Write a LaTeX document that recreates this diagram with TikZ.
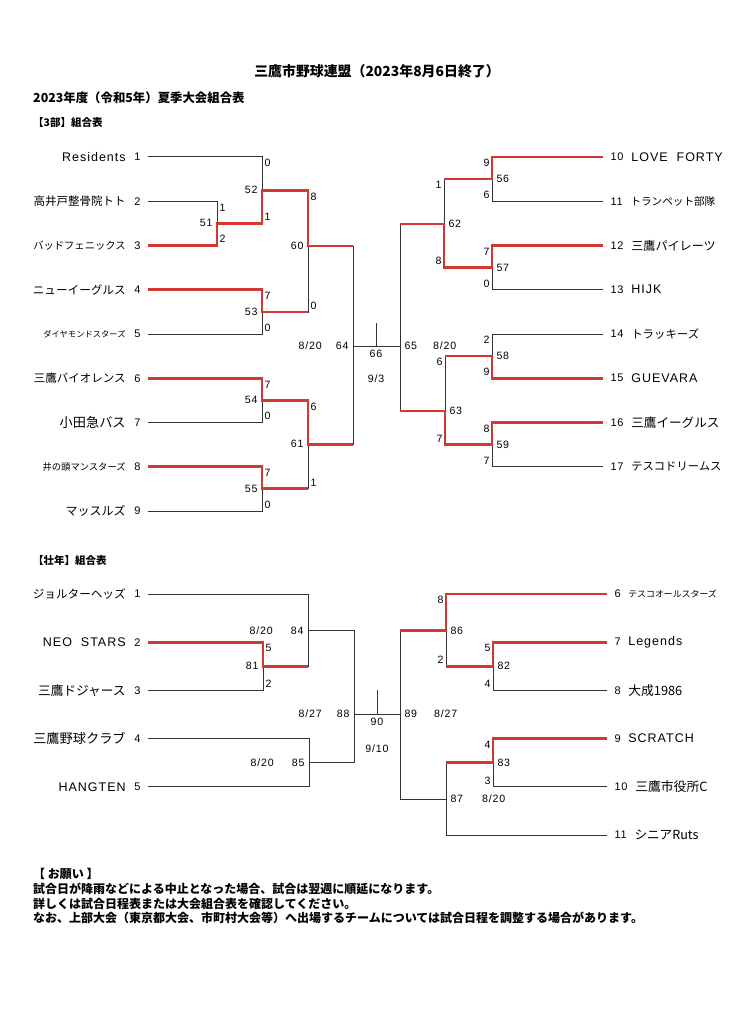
\documentclass[tikz,border=0pt]{standalone}
\usepackage{fontspec}
\setmainfont{Liberation Sans}[LetterSpace=8]
\newfontfamily\jp{Noto Sans CJK JP}
\usetikzlibrary{positioning}

\begin{document}
\begin{tikzpicture}[x=1pt,y=-1pt,
  wire/.style={draw=black!80,line width=1pt},
  win/.style={draw=bred,line width=2.9pt},
  num/.style={inner sep=2.3pt,font=\fontsize{10.6}{11}\selectfont},
  seed/.style={inner sep=2.3pt,font=\fontsize{11}{11}\selectfont},
  team/.style={inner sep=1pt},
  head/.style={anchor=west,inner sep=0pt}]
  \definecolor{bred}{RGB}{212,56,50}
  \useasboundingbox (0,0) rectangle (734,1024);

  % headings
  \node[font=\fontsize{13.9}{14}\jp\bfseries] (title) at (377,71) {三鷹市野球連盟（2023年8月6日終了）};
  \node[head,font=\fontsize{12.4}{13}\jp\bfseries] (sub) at (33,98) {2023年度（令和5年）夏季大会組合表};
  \node[head,font=\fontsize{10.5}{11}\jp\bfseries] (grpA) at (33,123) {【3部】組合表};
  \node[head,font=\fontsize{10.5}{11}\jp\bfseries] (grpB) at (33,560) {【壮年】組合表};

  % team line ends
  \foreach \i in {1,...,9} \coordinate (a\i) at (148,{157+44.25*(\i-1)});
  \foreach \i in {10,...,17} \coordinate (b\i) at (603,{157+44.25*(\i-10)});
  \foreach \i in {1,...,5} \coordinate (c\i) at (148,{594+48.2*(\i-1)});
  \foreach \i in {6,...,11} \coordinate (d\i) at (607,{594+48.2*(\i-6)});

  % match junctions
  \foreach \m/\x/\y in {51/217/223.4, 52/262/190.2, 53/262/312, 54/262/400.4,
      55/262/488.9, 60/308/246, 61/308/444.3, 64/353/346, 66/376/346, 65/400/346,
      56/492/179, 57/492/267.5, 58/492/356, 59/492/444.6, 62/444/224, 63/445/411,
      81/263/666.3, 84/308/630.5, 85/309/762.7, 88/354/714, 90/377/714, 89/400/714,
      82/493/666.3, 83/493/762.7, 86/446/630.5, 87/446/799}
    \coordinate (m\m) at (\x,\y);
  \coordinate (k66) at (376,323);
  \coordinate (k90) at (377,690);

  % teams, 3部
  \foreach \i/\fs/\nm in {1/12.5/Residents, 2/11.5/{\jp 高井戸整骨院トト},
      3/10.3/{\jp バッドフェニックス}, 4/11.6/{\jp ニューイーグルス},
      5/8.3/{\jp ダイヤモンドスターズ}, 6/11.5/{\jp 三鷹バイオレンス},
      7/13.2/{\jp 小田急バス}, 8/9.3/{\jp 井の頭マンスターズ}, 9/12/{\jp マッスルズ}} {
    \node[seed,left=5pt of a\i] (na\i) {\i};
    \node[team,font=\fontsize{\fs}{\fs}\selectfont,left=5pt of na\i] (ta\i) {\nm};
  }
  \foreach \i/\fs/\nm in {10/12.5/LOVE~~FORTY, 11/10.6/{\jp トランペット部隊},
      12/12.1/{\jp 三鷹パイレーツ}, 13/12.5/HIJK, 14/11.4/{\jp トラッキーズ},
      15/12.5/GUEVARA, 16/12.6/{\jp 三鷹イーグルス}, 17/11.3/{\jp テスコドリームス}} {
    \node[seed,right=5pt of b\i] (nb\i) {\i};
    \node[team,font=\fontsize{\fs}{\fs}\selectfont,right=4pt of nb\i] (tb\i) {\nm};
  }
  % teams, 壮年
  \foreach \i/\fs/\nm in {1/11.6/{\jp ジョルターヘッズ}, 2/12.5/NEO~~STARS,
      3/12.7/{\jp 三鷹ドジャース}, 4/13.2/{\jp 三鷹野球クラブ}, 5/12.5/HANGTEN} {
    \node[seed,left=5pt of c\i] (nc\i) {\i};
    \node[team,font=\fontsize{\fs}{\fs}\selectfont,left=5pt of nc\i] (tc\i) {\nm};
  }
  \foreach \i/\fs/\nm in {6/8.9/{\jp テスコオールスターズ}, 7/12.5/Legends,
      8/12.8/{\jp 大成1986}, 9/12.5/SCRATCH, 10/12.8/{\jp 三鷹市役所C},
      11/12.6/{\jp シニアRuts}} {
    \node[seed,right=5pt of d\i] (nd\i) {\i};
    \node[team,font=\fontsize{\fs}{\fs}\selectfont,right=4pt of nd\i] (td\i) {\nm};
  }

  % bracket lines
  \foreach \u/\v in {a1/m52, a2/m51, a3/m51, m51/m52, a4/m53, a5/m53, m52/m60, m53/m60,
      a6/m54, a7/m54, a8/m55, a9/m55, m54/m61, m55/m61, m60/m64, m61/m64,
      b10/m56, b11/m56, b12/m57, b13/m57, m56/m62, m57/m62, b14/m58, b15/m58,
      b16/m59, b17/m59, m58/m63, m59/m63, m62/m65, m63/m65,
      c1/m84, c2/m81, c3/m81, m81/m84, c4/m85, c5/m85, m84/m88, m85/m88,
      d6/m86, d7/m82, d8/m82, m82/m86, d9/m83, d10/m83, m83/m87, d11/m87,
      m86/m89, m87/m89}
    \draw[wire] (\u) -| (\v);
  \draw[wire] (m64) -- (m65);
  \draw[wire] (m66) -- (k66);
  \draw[wire] (m88) -- (m89);
  \draw[wire] (m90) -- (k90);

  % winners
  \draw[win] (a3) -| (m51) -| (m52) -| (m60) -- (m60 -| m64);
  \draw[win] (a4) -| (m53) -- (m53 -| m60);
  \draw[win] (a6) -| (m54) -| (m61) -- (m61 -| m64);
  \draw[win] (a8) -| (m55) -- (m55 -| m61);
  \draw[win] (b10) -| (m56) -- (m56 -| m62);
  \draw[win] (b12) -| (m57) -| (m62) -- (m62 -| m65);
  \draw[win] (b15) -| (m58) -- (m58 -| m63);
  \draw[win] (b16) -| (m59) -| (m63) -- (m63 -| m65);
  \draw[win] (c2) -| (m81) -- (m81 -| m84);
  \draw[win] (d6) -| (m86) -- (m86 -| m89);
  \draw[win] (d7) -| (m82) -- (m82 -| m86);
  \draw[win] (d9) -| (m83) -- (m83 -| m87);

  % scores
  \foreach \u/\v/\sc/\an in {a2/m51/1/north west, a3/m51/2/south west,
      a1/m52/0/north west, m51/m52/1/south west, a4/m53/7/north west, a5/m53/0/south west,
      a6/m54/7/north west, a7/m54/0/south west, a8/m55/7/north west, a9/m55/0/south west,
      m52/m60/8/north west, m53/m60/0/south west, m54/m61/6/north west, m55/m61/1/south west,
      b10/m56/9/north east, b11/m56/6/south east, b12/m57/7/north east, b13/m57/0/south east,
      b14/m58/2/north east, b15/m58/9/south east, b16/m59/8/north east, b17/m59/7/south east,
      m56/m62/1/north east, m57/m62/8/south east, m58/m63/6/north east, m59/m63/7/south east,
      c2/m81/5/north west, c3/m81/2/south west,
      d6/m86/8/north east, m82/m86/2/south east, d7/m82/5/north east, d8/m82/4/south east,
      d9/m83/4/north east, d10/m83/3/south east}
    \node[num,anchor=\an] at (\u -| \v) {\sc};

  % match numbers
  \foreach \m in {51,52,53,54,55,60,61,64,81,84,85,88}
    \node[num,left=2pt of m\m] (n\m) {\m};
  \foreach \m in {56,57,58,59,62,63,65,82,83,86,87,89}
    \node[num,right=2pt of m\m] (n\m) {\m};
  \node[num,below=1.5pt of m66] (n66) {66};
  \node[num,below=1.5pt of m90] (n90) {90};

  % dates
  \node[num,left=9pt of n64] (dt64) {8/20};
  \node[num,right=11pt of n65] (dt65) {8/20};
  \node[num,below=12pt of n66] (dt66) {9/3};
  \node[num,left=13pt of n84] (dt84) {8/20};
  \node[num,left=13pt of n85] (dt85) {8/20};
  \node[num,left=10pt of n88] (dt88) {8/27};
  \node[num,right=12pt of n89] (dt89) {8/27};
  \node[num,right=14pt of n87] (dt87) {8/20};
  \node[num,below=14pt of n90] (dt90) {9/10};

  % notes
  \node[head,font=\fontsize{12}{12}\jp\bfseries] (req) at (33,874) {【 お願い 】};
  \node[head,font=\fontsize{12}{12}\jp\bfseries] (note1) at (33,889) {試合日が降雨などによる中止となった場合、試合は翌週に順延になります。};
  \node[head,font=\fontsize{12}{12}\jp\bfseries] (note2) at (33,903.5) {詳しくは試合日程表または大会組合表を確認してください。};
  \node[head,font=\fontsize{12}{12}\jp\bfseries] (note3) at (33,918) {なお、上部大会（東京都大会、市町村大会等）へ出場するチームについては試合日程を調整する場合があります。};
\end{tikzpicture}
\end{document}
